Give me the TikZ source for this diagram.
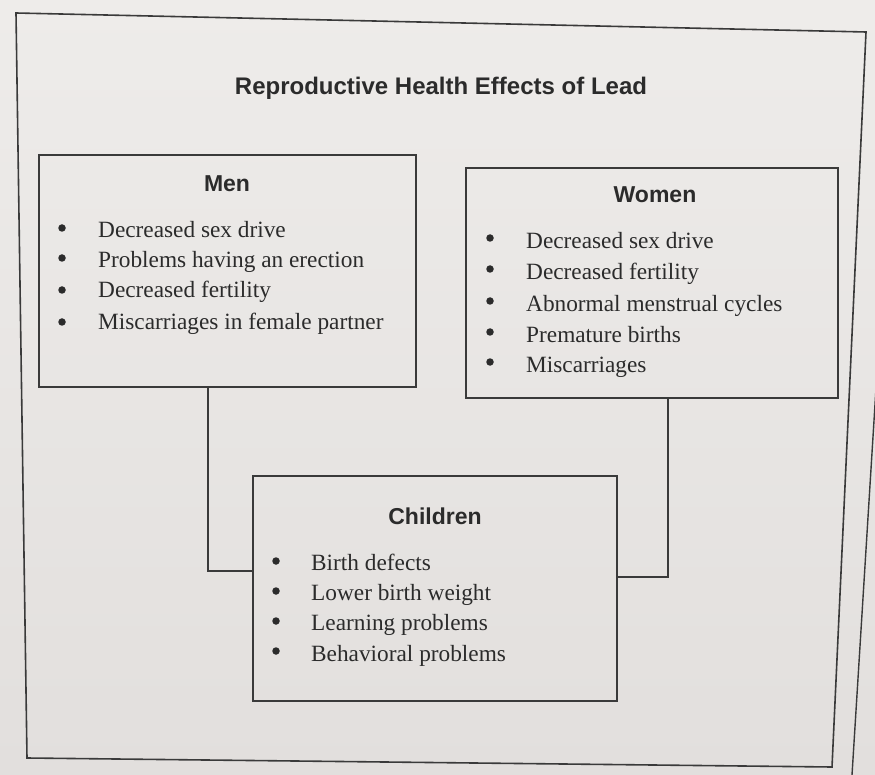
\documentclass[tikz,border=0pt]{standalone}
\usepackage{fontspec}
\setmainfont{Liberation Serif}
\setsansfont{Liberation Sans}
\definecolor{paperT}{HTML}{EEECEA}
\definecolor{paperB}{HTML}{E2DFDD}
\definecolor{ink}{HTML}{2B2B2B}
\definecolor{rule}{HTML}{3A3A3A}
\begin{document}
\begin{tikzpicture}[x=1pt,y=-1pt,
  frame/.style={draw=rule, line width=1.6pt, line join=miter},
  box/.style={draw=rule, line width=1.7pt, anchor=north west, inner sep=0},
  link/.style={draw=rule, line width=1.7pt},
  hd/.style={anchor=base, inner sep=0, text=ink, font=\sffamily\bfseries\fontsize{23}{28}\selectfont},
  ttl/.style={anchor=base, inner sep=0, text=ink, font=\sffamily\bfseries\fontsize{24}{29}\selectfont},
  item/.style={anchor=base west, inner sep=0, text=ink, font=\fontsize{23.3}{28}\selectfont},
  bul/.style={circle, fill=ink, inner sep=0, minimum size=7.5pt}]
\useasboundingbox (0,0) rectangle (875,775);
\clip (0,0) rectangle (875,775);
\shade[top color=paperT, bottom color=paperB] (0,0) rectangle (875,775);
% outer frame (photographed, slightly skewed)
\draw[frame] (16,13) -- (866,32) -- (832,767) -- (27,758) -- cycle;
\draw[rule, line width=1.4pt] (879,340) -- (852,775);

\node[ttl] (title) at (441,94.5) {Reproductive Health Effects of Lead};

% boxes
\node[box, minimum width=377pt, minimum height=232pt] (men) at (38,154) {};
\node[box, minimum width=372pt, minimum height=230pt] (women) at (465,167) {};
\node[box, minimum width=364pt, minimum height=225pt] (children) at (252,475) {};

% connectors
\coordinate (mc) at (208,571);
\coordinate (wc) at (668,577);
\draw[link] (men.south -| mc) |- (children.west |- mc);
\draw[link] (women.south -| wc) |- (children.east |- wc);

% Men
\node[hd] (menT) at (227,192) {Men};
\node[bul] (mb1) at (62,228) {};
\node[bul] (mb2) at (62,258) {};
\node[bul] (mb3) at (62,290) {};
\node[bul] (mb4) at (62,322) {};
\node[item] (mt1) at (98,238) {Decreased sex drive};
\node[item] (mt2) at (98,268) {Problems having an erection};
\node[item] (mt3) at (98,298) {Decreased fertility};
\node[item] (mt4) at (98,330) {Miscarriages in female partner};

% Women
\node[hd] (womenT) at (655,203) {Women};
\node[bul] (wb1) at (490,238) {};
\node[bul] (wb2) at (490,269) {};
\node[bul] (wb3) at (490,301) {};
\node[bul] (wb4) at (490,332) {};
\node[bul] (wb5) at (490,362) {};
\node[item] (wt1) at (526,249) {Decreased sex drive};
\node[item] (wt2) at (526,280) {Decreased fertility};
\node[item] (wt3) at (526,312) {Abnormal menstrual cycles};
\node[item] (wt4) at (526,343) {Premature births};
\node[item] (wt5) at (526,372) {Miscarriages};

% Children
\node[hd] (childT) at (435,524) {Children};
\node[bul] (cb1) at (276,561) {};
\node[bul] (cb2) at (276,591) {};
\node[bul] (cb3) at (276,621) {};
\node[bul] (cb4) at (276,651) {};
\node[item] (ct1) at (311,570) {Birth defects};
\node[item] (ct2) at (311,600) {Lower birth weight};
\node[item] (ct3) at (311,630) {Learning problems};
\node[item] (ct4) at (311,661) {Behavioral problems};
\end{tikzpicture}
\end{document}
